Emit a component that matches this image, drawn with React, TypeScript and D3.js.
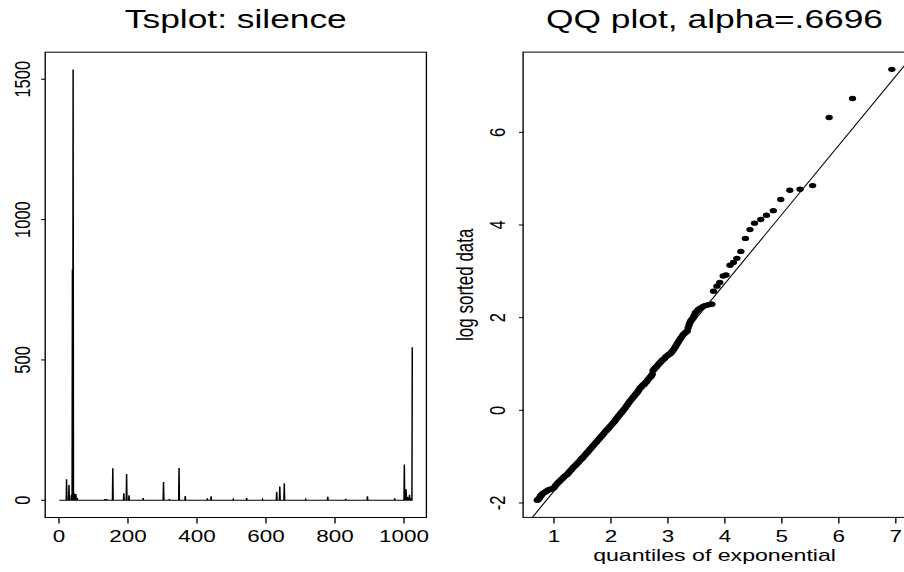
import React from "react";
import * as d3 from "d3";

// ---------- data ----------
// Time series "silence": length and the non-baseline readings (index, value)
const tsLength = 1024;
const tsTime = [22, 29, 36, 39, 41, 44, 49, 53, 133, 138, 156, 188, 196, 203, 244, 303, 320, 348, 366, 430, 441, 505, 544, 590, 631, 640, 653, 715, 779, 831, 894, 973, 1001, 1006, 1010, 1013, 1016, 1020, 1024];
const tsValue = [75, 54, 20, 822, 1535, 25, 22, 8, 4, 4, 114, 25, 94, 18, 8, 65, 4, 115, 15, 7, 14, 3, 8, 3, 30, 49, 60, 3, 12, 5, 14, 7, 127, 39, 12, 10, 20, 8, 545];

// QQ plot: quantiles of exponential (x) vs log sorted data (y)
const qqX = [
  0.707, 0.72, 0.735, 0.75, 0.765, 0.78, 0.8, 0.825, 0.85, 0.875, 0.9, 0.925, 0.95, 0.975, 1.0,
  1.025, 1.05, 1.075, 1.1, 1.125, 1.15, 1.175, 1.2, 1.225, 1.25, 1.275, 1.3, 1.325, 1.35, 1.375,
  1.4, 1.43, 1.46, 1.48, 1.5, 1.525, 1.55, 1.575, 1.6, 1.625, 1.65, 1.675, 1.7, 1.725, 1.75,
  1.775, 1.8, 1.825, 1.85, 1.875, 1.9, 1.925, 1.95, 1.975, 2.0, 2.025, 2.05, 2.07, 2.09, 2.11,
  2.13, 2.15, 2.17, 2.19, 2.21, 2.23, 2.25, 2.27, 2.29, 2.31, 2.33, 2.35, 2.37, 2.39, 2.41,
  2.43, 2.45, 2.47, 2.49, 2.51, 2.53, 2.55, 2.57, 2.59, 2.61, 2.63, 2.65, 2.67, 2.69, 2.71,
  2.725, 2.74, 2.76, 2.78, 2.8, 2.82, 2.84, 2.86, 2.88, 2.9, 2.92, 2.94, 2.96, 2.98, 3.0,
  3.02, 3.04, 3.06, 3.08, 3.1, 3.12, 3.14, 3.16, 3.18, 3.2, 3.22, 3.24, 3.26, 3.28, 3.3,
  3.32, 3.34, 3.355, 3.37, 3.385, 3.4, 3.42, 3.44, 3.46, 3.48, 3.5, 3.53, 3.56, 3.59, 3.62,
  3.65, 3.68, 3.72, 3.75, 3.77,
  3.8, 3.86, 3.91, 3.97, 4.02, 4.09, 4.15, 4.21, 4.28, 4.36, 4.44, 4.52, 4.63, 4.73, 4.85,
  4.98, 5.14, 5.32, 5.54, 5.83, 6.24, 6.93,
];
const qqY = [
  -1.94, -1.93, -1.91, -1.88, -1.85, -1.83, -1.8, -1.78, -1.76, -1.74, -1.72, -1.71, -1.7, -1.69, -1.67,
  -1.63, -1.59, -1.56, -1.53, -1.5, -1.47, -1.44, -1.41, -1.39, -1.36, -1.32, -1.29, -1.25, -1.22, -1.19,
  -1.16, -1.12, -1.08, -1.05, -1.03, -0.99, -0.96, -0.92, -0.89, -0.85, -0.82, -0.78, -0.75, -0.71, -0.68,
  -0.64, -0.61, -0.57, -0.54, -0.5, -0.46, -0.43, -0.4, -0.36, -0.33, -0.29, -0.26, -0.23, -0.19, -0.16,
  -0.13, -0.1, -0.07, -0.04, -0.01, 0.02, 0.05, 0.09, 0.12, 0.16, 0.19, 0.22, 0.25, 0.28, 0.31,
  0.34, 0.37, 0.4, 0.44, 0.48, 0.5, 0.53, 0.55, 0.57, 0.6, 0.62, 0.66, 0.69, 0.72, 0.74,
  0.78, 0.86, 0.89, 0.92, 0.94, 0.97, 1.0, 1.03, 1.05, 1.08, 1.1, 1.12, 1.15, 1.17, 1.19,
  1.21, 1.22, 1.25, 1.28, 1.31, 1.35, 1.39, 1.43, 1.47, 1.51, 1.55, 1.58, 1.62, 1.65, 1.67,
  1.69, 1.71, 1.78, 1.84, 1.89, 1.93, 1.96, 1.99, 2.05, 2.1, 2.13, 2.17, 2.2, 2.22, 2.24,
  2.26, 2.27, 2.28, 2.29, 2.29,
  2.57, 2.68, 2.76, 2.9, 2.92, 3.13, 3.19, 3.28, 3.43, 3.71, 3.9, 4.04, 4.12, 4.21, 4.31,
  4.55, 4.75, 4.77, 4.85, 6.32, 6.73, 7.36,
];
const alpha = 0.6696;
const qqIntercept = -3.238;

const tsXTicks = [0, 200, 400, 600, 800, 1000];
const tsYTicks = [0, 500, 1000, 1500];
const qqXTicks = [1, 2, 3, 4, 5, 6, 7];
const qqYTicks = [-2, 0, 2, 4, 6];

const title1 = "Tsplot: silence";
const title2 = "QQ plot, alpha=.6696";
const qqXLabel = "quantiles of exponential";
const qqYLabel = "log sorted data";

// ---------- layout ----------
const W = 904;
const H = 572;
const SX = 1.36; // horizontal stretch of the original picture
const VW = W / SX;
const FONT = "'Liberation Sans', Arial, Helvetica, sans-serif";

function rExpand(ext: [number, number]): [number, number] {
  const d = (ext[1] - ext[0]) * 0.04;
  return [ext[0] - d, ext[1] + d];
}

export default function App() {
  // left panel
  const xTs = d3.scaleLinear().domain(rExpand([1, tsLength])).range([45.2 / SX, 426.4 / SX]);
  const yTs = d3.scaleLinear().domain(rExpand([0, d3.max(tsValue) as number])).range([517.5, 52.2]);

  // build line points from sparse readings (baseline 0 elsewhere)
  const pts: [number, number][] = [[1, 0]];
  tsTime.forEach((t, i) => {
    const last = pts[pts.length - 1][0];
    if (t - 1 > last) pts.push([t - 1, 0]);
    pts.push([t, tsValue[i]]);
    const next = i + 1 < tsTime.length ? tsTime[i + 1] : tsLength + 1;
    if (next > t + 1 && t + 1 <= tsLength) pts.push([t + 1, 0]);
  });
  if (pts[pts.length - 1][0] < tsLength) pts.push([tsLength, 0]);
  const tsLine = d3.line<[number, number]>().x((d) => xTs(d[0])).y((d) => yTs(d[1]));

  // right panel
  const xQ = d3.scaleLinear().domain(rExpand(d3.extent(qqX) as [number, number])).range([523.1 / SX, 906 / SX]);
  const yQ = d3.scaleLinear().domain(rExpand(d3.extent(qqY) as [number, number])).range([517.4, 52.1]);
  const [qx0, qx1] = xQ.domain();
  const slope = 1 / alpha;

  const [lx0, lx1] = xTs.range();
  const [ly1, ly0] = yTs.range();
  const [rx0, rx1] = xQ.range();
  const [ry1, ry0] = yQ.range();

  const tickLenX = 6;
  const tickLenY = 4.2 / SX;

  return (
    <svg
      width={W}
      height={H}
      viewBox={`0 0 ${VW} ${H}`}
      preserveAspectRatio="none"
      style={{ position: "absolute", left: 0, top: 0, background: "#fff" }}
      fontFamily={FONT}
    >
      <rect x={0} y={0} width={VW} height={H} fill="#fff" />
      <defs>
        <clipPath id="clipL">
          <rect x={lx0} y={ly0} width={lx1 - lx0} height={ly1 - ly0} />
        </clipPath>
        <clipPath id="clipR">
          <rect x={rx0} y={ry0} width={rx1 - rx0} height={ry1 - ry0} />
        </clipPath>
      </defs>

      {/* ---------- left panel ---------- */}
      <text x={(lx0 + lx1) / 2} y={28.3} fontSize={26} textAnchor="middle" fill="#000">
        {title1}
      </text>
      <path d={tsLine(pts) || ""} fill="none" stroke="#000" strokeWidth={1.1} clipPath="url(#clipL)" />
      <rect x={lx0} y={ly0} width={lx1 - lx0} height={ly1 - ly0} fill="none" stroke="#000" strokeWidth={1} />
      {tsXTicks.map((t) => (
        <g key={"tx" + t}>
          <line x1={xTs(t)} x2={xTs(t)} y1={ly1} y2={ly1 + tickLenX} stroke="#000" strokeWidth={1} />
          <text x={xTs(t)} y={542.5} fontSize={16.5} textAnchor="middle" fill="#000">
            {t}
          </text>
        </g>
      ))}
      {tsYTicks.map((t) => (
        <g key={"ty" + t}>
          <line x1={lx0 - tickLenY} x2={lx0} y1={yTs(t)} y2={yTs(t)} stroke="#000" strokeWidth={1} />
          <text
            x={30 / SX}
            y={yTs(t)}
            fontSize={16.5}
            textAnchor="middle"
            fill="#000"
            transform={`rotate(-90 ${30 / SX} ${yTs(t)})`}
          >
            {t}
          </text>
        </g>
      ))}

      {/* ---------- right panel ---------- */}
      <text x={(rx0 + rx1) / 2} y={28.3} fontSize={26} textAnchor="middle" fill="#000">
        {title2}
      </text>
      <g clipPath="url(#clipR)">
        <line
          x1={xQ(qx0)}
          y1={yQ(qqIntercept + slope * qx0)}
          x2={xQ(qx1)}
          y2={yQ(qqIntercept + slope * qx1)}
          stroke="#000"
          strokeWidth={0.9}
        />
        {qqX.map((x, i) => (
          <circle key={"p" + i} cx={xQ(x)} cy={yQ(qqY[i])} r={2.7} fill="#000" />
        ))}
      </g>
      <rect x={rx0} y={ry0} width={rx1 - rx0} height={ry1 - ry0} fill="none" stroke="#000" strokeWidth={1} />
      {qqXTicks.map((t) => (
        <g key={"qx" + t}>
          <line x1={xQ(t)} x2={xQ(t)} y1={ry1} y2={ry1 + tickLenX} stroke="#000" strokeWidth={1} />
          <text x={xQ(t)} y={542.5} fontSize={16.5} textAnchor="middle" fill="#000">
            {t}
          </text>
        </g>
      ))}
      {qqYTicks.map((t) => (
        <g key={"qy" + t}>
          <line x1={rx0 - tickLenY} x2={rx0} y1={yQ(t)} y2={yQ(t)} stroke="#000" strokeWidth={1} />
          <text
            x={505.3 / SX}
            y={yQ(t)}
            fontSize={16.5}
            textAnchor="middle"
            fill="#000"
            transform={`rotate(-90 ${505.3 / SX} ${yQ(t)})`}
          >
            {t}
          </text>
        </g>
      ))}
      <text x={(rx0 + rx1) / 2} y={560.7} fontSize={17} textAnchor="middle" fill="#000">
        {qqXLabel}
      </text>
      <text
        x={473 / SX}
        y={(ry0 + ry1) / 2}
        fontSize={17}
        textAnchor="middle"
        fill="#000"
        transform={`rotate(-90 ${473 / SX} ${(ry0 + ry1) / 2})`}
      >
        {qqYLabel}
      </text>
    </svg>
  );
}
